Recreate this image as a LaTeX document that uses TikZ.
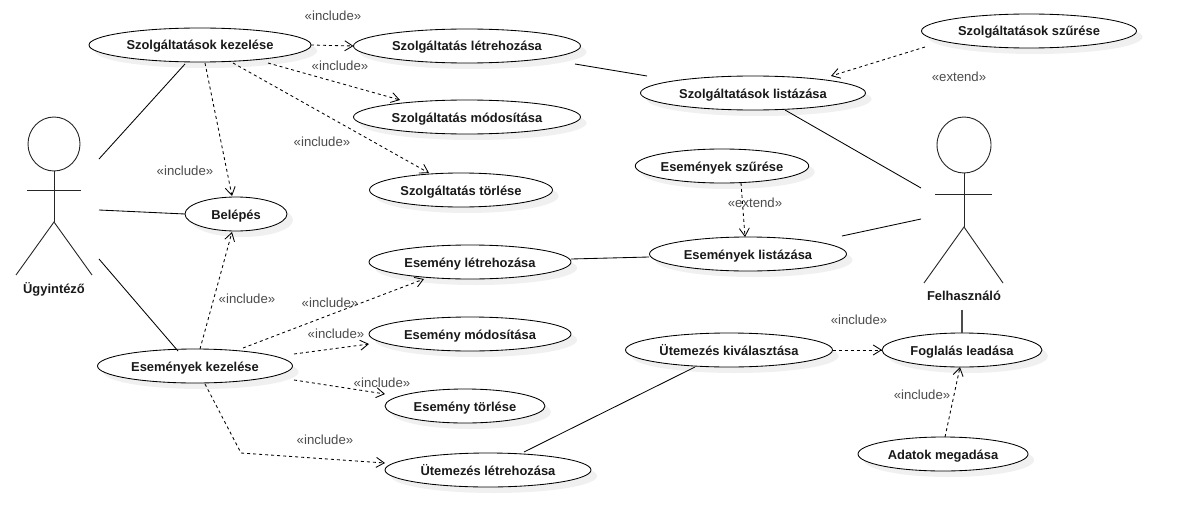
\documentclass[tikz,border=0pt]{standalone}
\usepackage{fontspec}
\setmainfont{Liberation Sans}
\usetikzlibrary{shapes.geometric,shadows,arrows.meta}
\tikzset{
  uc/.style={ellipse,draw=black,line width=0.85pt,fill=white,inner sep=0pt,outer sep=0pt,
    minimum height=34pt,font=\fontsize{12.9}{15}\selectfont\bfseries,text=black!90,
    text height=10pt,text depth=0pt,
    drop shadow={shadow xshift=6pt,shadow yshift=-6pt,fill=black!6,opacity=1}},
  lbl/.style={font=\fontsize{13.2}{15}\selectfont,text=black!70,inner sep=0pt},
  actorlbl/.style={font=\fontsize{12.9}{15}\selectfont\bfseries,text=black!90,inner sep=0pt},
  assoc/.style={draw=black,line width=0.85pt},
  dep/.style={draw=black,line width=0.85pt,dash pattern=on 3pt off 3pt,
    -{Straight Barb[length=8pt,width=10pt,line width=0.85pt]}},
  body/.style={draw=black!85,line width=0.9pt},
}
\newcommand{\at}[3]{([shift={(#2,#3)}]#1.center)}
\begin{document}
\begin{tikzpicture}[x=1pt,y=-1pt]
\useasboundingbox[fill=white] (0,0) rectangle (1177,527);
% use cases
\node[uc,minimum width=222pt] (skez) at (200,45) {Szolgáltatások kezelése};
\node[uc,minimum width=227pt] (szlet) at (467,46) {Szolgáltatás létrehozása};
\node[uc,minimum width=227pt] (szmod) at (467,117) {Szolgáltatás módosítása};
\node[uc,minimum width=183pt] (sztor) at (461,190) {Szolgáltatás törlése};
\node[uc,minimum width=102pt] (belep) at (236,214) {Belépés};
\node[uc,minimum width=202pt] (evlet) at (470,262) {Esemény létrehozása};
\node[uc,minimum width=202pt] (evmod) at (470,334) {Esemény módosítása};
\node[uc,minimum width=160pt] (evtor) at (465,406) {Esemény törlése};
\node[uc,minimum width=195pt] (evk) at (195,366) {Események kezelése};
\node[uc,minimum width=206pt] (utlet) at (488,470) {Ütemezés létrehozása};
\node[uc,minimum width=207pt] (utkiv) at (729,350) {Ütemezés kiválasztása};
\node[uc,minimum width=160pt] (fog) at (962,350) {Foglalás leadása};
\node[uc,minimum width=170pt] (adat) at (943,454) {Adatok megadása};
\node[uc,minimum width=197pt] (evlist) at (748,254) {Események listázása};
\node[uc,minimum width=160pt] (evsz) at (722,166) {Események szűrése};
\node[uc,minimum width=225pt] (szlist) at (753,93) {Szolgáltatások listázása};
\node[uc,minimum width=215pt] (szsz) at (1029,31) {Szolgáltatások szűrése};
% actor Ügyintéző
\node[ellipse,body,inner sep=0pt,minimum width=52pt,minimum height=54pt] (headL) at (54,144) {};
\coordinate (hipL) at (54,222);
\coordinate (armLa) at (27,190);
\coordinate (armLb) at (81,190);
\coordinate (footLa) at (16,275);
\coordinate (footLb) at (92,275);
\draw[body] (headL.south) -- (hipL);
\draw[body] (armLa) -- (armLb);
\draw[body] (footLa) -- (hipL) -- (footLb);
\node[actorlbl] (ugy) at (54,289) {Ügyintéző};
% actor Felhasználó
\node[ellipse,body,inner sep=0pt,minimum width=54pt,minimum height=56pt] (headR) at (964,145) {};
\coordinate (hipR) at (964,227);
\coordinate (armRa) at (935,194);
\coordinate (armRb) at (992,194);
\coordinate (footRa) at (924,283);
\coordinate (footRb) at (1003,283);
\draw[body] (headR.south) -- (hipR);
\draw[body] (armRa) -- (armRb);
\draw[body] (footRa) -- (hipR) -- (footRb);
\node[actorlbl] (felh) at (964,296) {Felhasználó};
% free ends
\coordinate (uA) at (99,159);
\coordinate (uB) at (99,210);
\coordinate (uC) at (99,259);
\coordinate (fA) at (921,188);
\coordinate (fB) at (921,219);
\coordinate (fC) at (962,310);
\coordinate (bend) at (241,453);
% associations
\draw[assoc] (uA) -- \at{skez}{-15}{19};
\draw[assoc] (uB) -- (belep.west);
\draw[assoc] (uC) -- \at{evk}{-17}{-15};
\draw[assoc] \at{szlet}{108}{18} -- \at{szlist}{-106}{-17};
\draw[assoc] \at{szlist}{32}{17} -- (fA);
\draw[assoc] \at{evlet}{101}{-3} -- \at{evlist}{-99}{3};
\draw[assoc] \at{evlist}{94}{-18} -- (fB);
\draw[assoc] \at{utlet}{36}{-18} -- \at{utkiv}{-34}{17};
\draw[draw=black!70,line width=1.3pt] (fC) -- (fog.north);
% dependencies
\draw[dep] (skez.east) -- (szlet.west);
\draw[dep] \at{skez}{68}{18} -- \at{szmod}{-67}{-17};
\draw[dep] \at{skez}{33}{18} -- \at{sztor}{-32}{-17};
\draw[dep] \at{skez}{5}{18} -- \at{belep}{-4}{-18};
\draw[dep] \at{evk}{5}{-17} -- \at{belep}{-4}{18};
\draw[dep] \at{evk}{48}{-18} -- \at{evlet}{-46}{17};
\draw[dep] \at{evk}{99}{-12} -- \at{evmod}{-101}{10};
\draw[dep] \at{evk}{99}{14} -- \at{evtor}{-80}{-12};
\draw[dep] \at{evk}{10}{18} -- (bend) -- \at{utlet}{-103}{-7};
\draw[dep] \at{szsz}{-104}{16} -- \at{szlist}{78}{-17};
\draw[dep] \at{evsz}{19}{17} -- \at{evlist}{-3}{-17};
\draw[dep] (utkiv.east) -- (fog.west);
\draw[dep] \at{adat}{2}{-17} -- \at{fog}{-2}{17};
% labels
\node[lbl] (l1) at (333,16) {«include»};
\node[lbl] (l2) at (340,66) {«include»};
\node[lbl] (l3) at (322,142) {«include»};
\node[lbl] (l4) at (185,171) {«include»};
\node[lbl] (l5) at (247,299) {«include»};
\node[lbl] (l6) at (330,303) {«include»};
\node[lbl] (l7) at (336,334) {«include»};
\node[lbl] (l8) at (382,383) {«include»};
\node[lbl] (l9) at (325,440) {«include»};
\node[lbl] (l10) at (859,320) {«include»};
\node[lbl] (l11) at (922,395) {«include»};
\node[lbl] (l12) at (959,77) {«extend»};
\node[lbl] (l13) at (755,203) {«extend»};
\end{tikzpicture}
\end{document}
